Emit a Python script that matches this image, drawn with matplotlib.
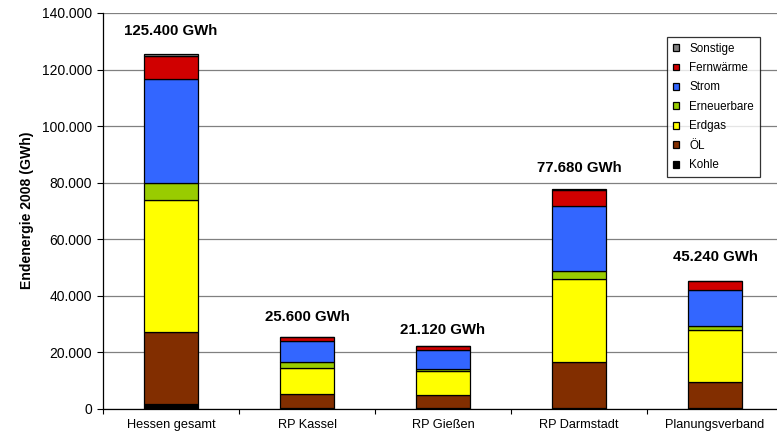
import matplotlib
matplotlib.use("Agg")
import matplotlib.pyplot as plt
import numpy as np

plt.rcParams['font.family'] = ['Liberation Sans', 'DejaVu Sans']

regions = ["Hessen gesamt", "RP Kassel", "RP Gießen", "RP Darmstadt", "Planungsverband"]
kohle       = [1800,   200,  500,   500,   300]
oel         = [25300, 5000, 4400, 16200,  9200]
erdgas      = [46900, 9400, 8400, 29300, 18600]
erneuerbare = [5900,  1900, 1000,  2800,  1400]
strom       = [36700, 7400, 6600, 22900, 12700]
fernwaerme  = [8300,  1500, 1200,  5600,  2900]
sonstige    = [500,    200,  200,   400,   100]
total_labels = ["125.400 GWh", "25.600 GWh", "21.120 GWh", "77.680 GWh", "45.240 GWh"]
yticks = [0, 20000, 40000, 60000, 80000, 100000, 120000, 140000]
ytick_labels = ["0", "20.000", "40.000", "60.000", "80.000", "100.000", "120.000", "140.000"]

series = [
    ("Kohle", kohle, "#000000"),
    ("ÖL", oel, "#822E00"),
    ("Erdgas", erdgas, "#FFFF00"),
    ("Erneuerbare", erneuerbare, "#99CC00"),
    ("Strom", strom, "#3366FF"),
    ("Fernwärme", fernwaerme, "#D00000"),
    ("Sonstige", sonstige, "#808080"),
]

# label offsets above bar tops (pixels) - layout only
label_offsets_px = [23, 20, 16, 21, 24]

W, H = 777, 433
fig = plt.figure(figsize=(W/100, H/100), dpi=100)
ax = fig.add_axes([103/W, (H-409)/H, 680/W, (409-13)/H])

x = np.arange(len(regions))
bottom = np.zeros(len(regions))
handles = []
for name, vals, col in series:
    b = ax.bar(x, vals, bottom=bottom, width=0.40, color=col, edgecolor="black",
               linewidth=0.9, label=name, zorder=3)
    handles.append(b)
    bottom += np.array(vals)

for xi, tot, lab, off in zip(x, bottom, total_labels, label_offsets_px):
    ax.annotate(lab, (xi, tot), xytext=(0, off * 0.72), textcoords="offset points",
                ha="center", va="center", fontsize=10.8, fontweight="bold", zorder=5)

ax.set_xlim(-0.5, len(regions) - 0.5)
ax.set_ylim(0, 140000)
ax.set_yticks(yticks)
ax.set_yticklabels(ytick_labels, fontsize=10)
ax.set_xticks(x)
ax.set_xticklabels(regions, fontsize=9.2)
ax.set_xticks(np.arange(len(regions) + 1) - 0.5, minor=True)
ax.tick_params(axis="x", which="major", length=0, pad=7)
ax.tick_params(axis="x", which="minor", length=3.5, color="black", width=0.8)
ax.tick_params(axis="y", length=4.3, width=0.8, pad=3.5)
ax.yaxis.grid(True, color="#808080", linewidth=0.9, zorder=0)
ax.set_axisbelow(True)
for s in ["top", "right"]:
    ax.spines[s].set_visible(False)
ax.spines["left"].set_color("black")
ax.spines["bottom"].set_color("black")
ax.spines["left"].set_linewidth(0.9)
ax.spines["bottom"].set_linewidth(0.9)
ax.set_ylabel("Endenergie 2008 (GWh)", fontsize=10.1, fontweight="bold")
ax.yaxis.set_label_coords(-0.102, 0.503)

leg = fig.legend(handles[::-1], [s[0] for s in series][::-1],
                 loc="upper right", bbox_to_anchor=(760/W, 1 - 36.7/H),
                 fontsize=8.4, frameon=True, fancybox=False, edgecolor="black",
                 handlelength=0.5, handleheight=0.5, handletextpad=0.9,
                 labelspacing=0.64, borderpad=0.5, borderaxespad=0)
leg.get_frame().set_linewidth(0.9)

fig.savefig("out.png", dpi=100)
